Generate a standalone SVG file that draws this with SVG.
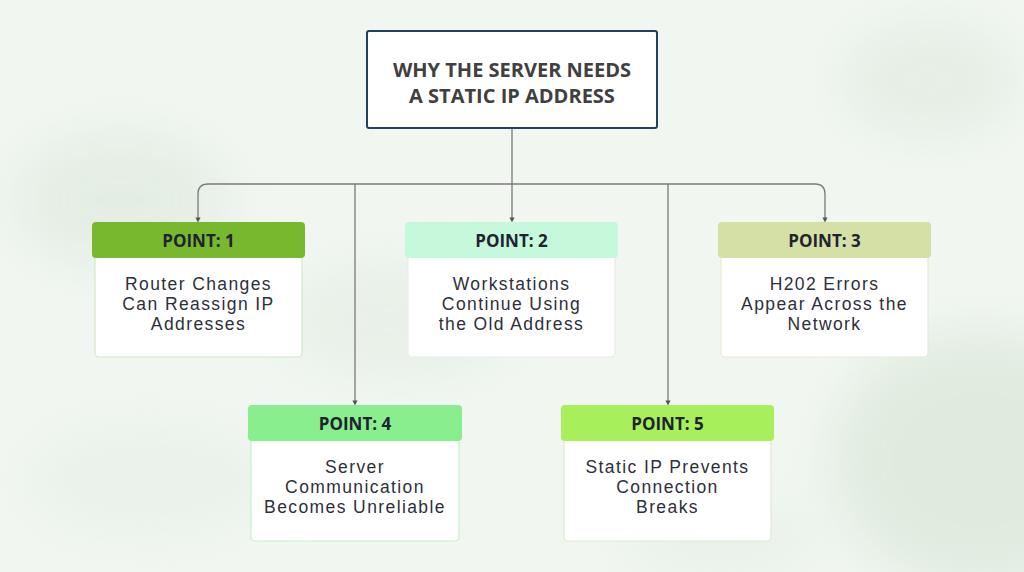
<svg xmlns="http://www.w3.org/2000/svg" width="1024" height="572" viewBox="0 0 1024 572">
<style>
.hd{font-family:"Open Sans","Liberation Sans",sans-serif;font-weight:700;font-size:17px;fill:#1f2330;text-anchor:middle}
.bd{font-family:"Liberation Sans",Arial,sans-serif;font-size:17.5px;letter-spacing:1.4px;fill:#2e2f3a;text-anchor:middle}
.body{fill:#ffffff;stroke:#d3e8c8;stroke-width:1.2}
.con{fill:none;stroke:#7a7a7a;stroke-width:1.3}
.ttl{font-family:"Open Sans","Liberation Sans",sans-serif;font-weight:700;font-size:20px;fill:#404040;text-anchor:middle}
</style>
<defs>
<marker id="dot" viewBox="0 0 6 6" refX="3" refY="3" markerWidth="4" markerHeight="4" orient="auto"><path d="M0,0 L6,3 L0,6 z" fill="#555"/></marker>
<filter id="blur" x="-50%" y="-50%" width="200%" height="200%"><feGaussianBlur stdDeviation="25"/></filter>
</defs>
<rect width="1024" height="572" fill="#f1f6f1"/>
<g filter="url(#blur)" opacity="0.8">
<ellipse cx="120" cy="200" rx="110" ry="70" fill="#e2ece2"/>
<ellipse cx="980" cy="460" rx="150" ry="130" fill="#dde9dc"/>
<ellipse cx="930" cy="80" rx="90" ry="60" fill="#e3ede3"/>
<ellipse cx="400" cy="320" rx="120" ry="60" fill="#e6efe6"/>
<ellipse cx="150" cy="480" rx="130" ry="60" fill="#e9f1e9"/>
<ellipse cx="720" cy="540" rx="100" ry="40" fill="#e8f0e8"/>
</g>
<g id="connectors">
<path class="con" d="M512,128 V220" marker-end="url(#dot)"/>
<path class="con" d="M208,184 H815"/>
<path class="con" d="M208,184 Q198,184 198,194 V220" marker-end="url(#dot)"/>
<path class="con" d="M815,184 Q825,184 825,194 V220" marker-end="url(#dot)"/>
<path class="con" d="M355,184 V403" marker-end="url(#dot)"/>
<path class="con" d="M668,184 V403" marker-end="url(#dot)"/>
</g>
<g id="title">
<rect x="367" y="31" width="290" height="97" rx="2" fill="#ffffff" stroke="#22405f" stroke-width="2"/>
<text class="ttl" x="512" y="77">WHY THE SERVER NEEDS</text>
<text class="ttl" x="512" y="103">A STATIC IP ADDRESS</text>
</g>
<g id="point1">
<rect class="body" x="95" y="250" width="207" height="107" rx="4"/>
<rect x="92" y="222" width="213" height="36" rx="4" fill="#78b82f"/>
<text class="hd" x="198.5" y="247">POINT: 1</text>
<text class="bd" x="198.5" y="290">Router Changes</text>
<text class="bd" x="198.5" y="310">Can Reassign IP</text>
<text class="bd" x="198.5" y="330">Addresses</text>
</g>
<g id="point2">
<rect class="body" x="408" y="250" width="207" height="107" rx="4" style="stroke:#e6efe6"/>
<rect x="405" y="222" width="213" height="36" rx="4" fill="#c6f8dc"/>
<text class="hd" x="511.5" y="247">POINT: 2</text>
<text class="bd" x="511.5" y="290">Workstations</text>
<text class="bd" x="511.5" y="310">Continue Using</text>
<text class="bd" x="511.5" y="330">the Old Address</text>
</g>
<g id="point3">
<rect class="body" x="721" y="250" width="207" height="107" rx="4" style="stroke:#e4ecd8"/>
<rect x="718" y="222" width="213" height="36" rx="4" fill="#d4e0a6"/>
<text class="hd" x="824.5" y="247">POINT: 3</text>
<text class="bd" x="824.5" y="290">H202 Errors</text>
<text class="bd" x="824.5" y="310">Appear Across the</text>
<text class="bd" x="824.5" y="330">Network</text>
</g>
<g id="point4">
<rect class="body" x="251" y="433" width="208" height="108" rx="4" style="stroke:#c8efcc"/>
<rect x="248" y="405" width="214" height="36" rx="4" fill="#88ee8e"/>
<text class="hd" x="355" y="430">POINT: 4</text>
<text class="bd" x="355" y="473">Server</text>
<text class="bd" x="355" y="493">Communication</text>
<text class="bd" x="355" y="513">Becomes Unreliable</text>
</g>
<g id="point5">
<rect class="body" x="564" y="433" width="207" height="108" rx="4" style="stroke:#dfe8d0"/>
<rect x="561" y="405" width="213" height="36" rx="4" fill="#a8ef5c"/>
<text class="hd" x="667.5" y="430">POINT: 5</text>
<text class="bd" x="667.5" y="473">Static IP Prevents</text>
<text class="bd" x="667.5" y="493">Connection</text>
<text class="bd" x="667.5" y="513">Breaks</text>
</g>
</svg>
